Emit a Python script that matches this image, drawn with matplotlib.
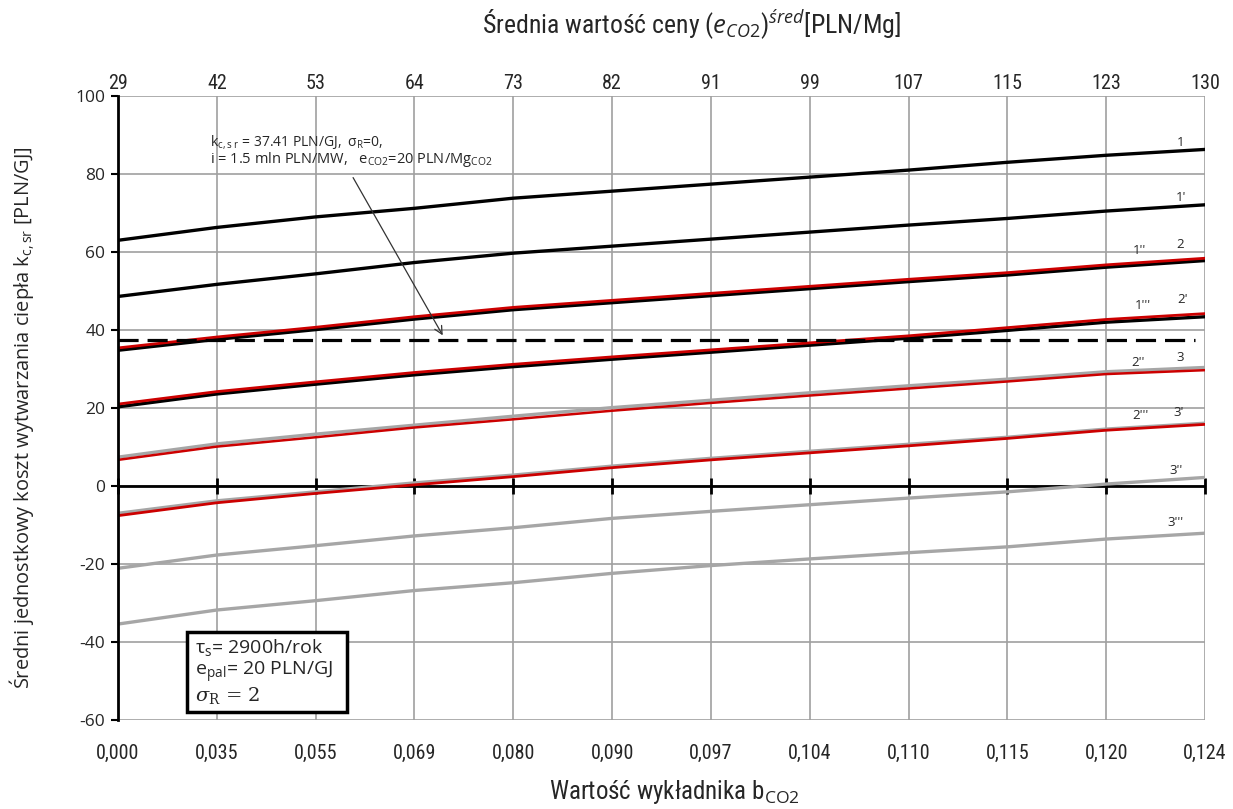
import matplotlib
matplotlib.use("Agg")
import matplotlib.pyplot as plt
from matplotlib.patches import Rectangle
from matplotlib import font_manager
import numpy as np

# Exponent b_CO2 (bottom axis) and mean CO2 price (top axis)
b_co2 = ["0,000", "0,035", "0,055", "0,069", "0,080", "0,090",
         "0,097", "0,104", "0,110", "0,115", "0,120", "0,124"]
e_co2_mean = ["29", "42", "53", "64", "73", "82", "91", "99", "107", "115", "123", "130"]

# Mean unit heat production cost k_c,sr [PLN/GJ]
k_1 = [63.0, 66.3, 69.0, 71.2, 73.8, 75.6, 77.4, 79.2, 81.0, 83.0, 84.8, 86.3]
k_1p = [48.6, 51.7, 54.4, 57.3, 59.7, 61.5, 63.3, 65.1, 66.9, 68.6, 70.5, 72.1]
k_1pp = [34.8, 37.6, 40.1, 42.8, 45.2, 47.0, 48.8, 50.6, 52.4, 54.1, 56.1, 57.8]
k_1ppp = [20.3, 23.6, 26.1, 28.5, 30.6, 32.5, 34.3, 36.1, 37.9, 39.9, 42.0, 43.4]
k_2 = [35.4, 38.2, 40.7, 43.4, 45.8, 47.6, 49.4, 51.2, 53.0, 54.7, 56.7, 58.4]
k_2p = [21.0, 24.2, 26.7, 29.1, 31.2, 33.1, 34.9, 36.7, 38.5, 40.6, 42.7, 44.2]
k_2pp = [6.7, 10.1, 12.5, 15.0, 17.1, 19.3, 21.3, 23.2, 25.0, 26.8, 28.7, 29.7]
k_2ppp = [-7.6, -4.3, -1.9, 0.3, 2.4, 4.7, 6.7, 8.5, 10.3, 12.2, 14.3, 15.8]
k_3 = [7.4, 10.8, 13.3, 15.6, 17.9, 20.1, 22.0, 23.9, 25.7, 27.4, 29.3, 30.4]
k_3p = [-7.0, -3.8, -1.5, 0.8, 2.8, 5.1, 7.1, 8.9, 10.7, 12.5, 14.6, 16.1]
k_3pp = [-21.1, -17.7, -15.3, -12.8, -10.7, -8.3, -6.5, -4.8, -3.1, -1.5, 0.5, 2.2]
k_3ppp = [-35.4, -31.8, -29.4, -26.8, -24.8, -22.4, -20.4, -18.7, -17.1, -15.6, -13.6, -12.1]

# Reference cost level (sigma_R = 0)
k_ref = 37.41

y_ticks = [100, 80, 60, 40, 20, 0, -20, -40, -60]

plt.rcParams["font.family"] = ["Open Sans", "DejaVu Sans"]
plt.rcParams["mathtext.fontset"] = "custom"
plt.rcParams["mathtext.rm"] = "Open Sans"
plt.rcParams["mathtext.it"] = "Open Sans:italic"
plt.rcParams["mathtext.bf"] = "Open Sans:bold"

# pick a narrow face for axis captions if one is available
_names = {f.name for f in font_manager.fontManager.ttflist}
_narrow = [n for n in ("Liberation Sans Narrow", "Roboto Condensed",
                       "Open Sans Condensed", "DejaVu Sans Condensed") if n in _names]
NARROW = dict(family=[_narrow[0]] if _narrow else ["DejaVu Sans"],
              stretch="condensed")

TXT = "#262626"
BLACK = "#000000"
RED = "#cc0000"
GREY = "#a6a6a6"
GRID = "#a0a0a0"

fig = plt.figure(figsize=(12.33, 8.09), dpi=100)
ax = fig.add_axes([118 / 1233, 89 / 809, 1087 / 1233, 624 / 809])

x = np.arange(len(b_co2))
ax.set_xlim(0, len(b_co2) - 1)
ax.set_ylim(-60, 100)

# grid
for xi in x[1:]:
    ax.axvline(xi, color=GRID, lw=1.2, zorder=1)
for yv in y_ticks:
    ax.axhline(yv, color=GRID, lw=1.2, zorder=1)

# zero line with its tick marks
ax.axhline(0, color=BLACK, lw=2.0, zorder=2)
ax.plot(x, np.zeros_like(x), ls="none", marker="|", ms=11, mew=2.0,
        color=BLACK, zorder=2, clip_on=False)

# series: grey group first, black group, then red on top
ax.plot(x, k_3, color=GREY, lw=2.4, zorder=3)
ax.plot(x, k_3p, color=GREY, lw=2.4, zorder=3)
ax.plot(x, k_3pp, color=GREY, lw=2.4, zorder=3)
ax.plot(x, k_3ppp, color=GREY, lw=2.4, zorder=3)
ax.plot(x, k_1, color=BLACK, lw=2.4, zorder=4)
ax.plot(x, k_1p, color=BLACK, lw=2.4, zorder=4)
ax.plot(x, k_1pp, color=BLACK, lw=2.4, zorder=4)
ax.plot(x, k_1ppp, color=BLACK, lw=2.4, zorder=4)
ax.plot(x, k_2, color=RED, lw=2.0, zorder=5)
ax.plot(x, k_2p, color=RED, lw=2.0, zorder=5)
ax.plot(x, k_2pp, color=RED, lw=1.8, zorder=5)
ax.plot(x, k_2ppp, color=RED, lw=2.0, zorder=5)

# reference level
ax.plot([0, 10.9], [k_ref, k_ref], color=BLACK, lw=2.3,
        ls=(0, (6.3, 2.8)), zorder=6)

# curve labels
curve_labels = [
    ("1", 10.75, 88.1), ("1'", 10.76, 73.9), ("2", 10.75, 62.0),
    ("1''", 10.34, 60.3), ("2'", 10.77, 47.7), ("1'''", 10.37, 46.2),
    ("3", 10.75, 33.0), ("2''", 10.32, 31.6), ("3'", 10.73, 18.9),
    ("2'''", 10.35, 18.2), ("3''", 10.71, 4.1), ("3'''", 10.70, -9.4),
]
for lab, lx, ly in curve_labels:
    ax.text(lx, ly, lab, fontsize=9.5, color=TXT, ha="center", va="center", zorder=7)

# reference-level annotation
ax.text(0.93, 88.3, "k$_{\\mathrm{c,s\\ r}}$ = 37.41 PLN/GJ,  σ$_{\\mathrm{R}}$=0,",
        fontsize=10, color=TXT, ha="left", va="center", zorder=7)
ax.text(0.93, 83.6, "i = 1.5 mln PLN/MW,   e$_{\\mathrm{CO2}}$=20 PLN/Mg$_{\\mathrm{CO2}}$",
        fontsize=10.5, color=TXT, ha="left", va="center", zorder=7)
ax.annotate("", xy=(3.30, k_ref + 0.6), xytext=(2.365, 79.7),
            arrowprops=dict(arrowstyle="->", color="#333333", lw=0.9,
                            mutation_scale=14), zorder=7)

# parameter box
ax.add_patch(Rectangle(((187 - 118) / 1087, (720 - 712) / 624),
                       160 / 1087, 80 / 624, transform=ax.transAxes,
                       fill=True, facecolor="white", edgecolor=BLACK, lw=2.5, zorder=8))
bx = (195 - 118) / 1087
ax.text(bx, (720 - 647) / 624, "τ$_{\\mathrm{s}}$= 2900h/rok", transform=ax.transAxes,
        fontsize=14, color=TXT, va="center", ha="left", zorder=9)
ax.text(bx, (720 - 672) / 624, "e$_{\\mathrm{pal}}$= 20 PLN/GJ", transform=ax.transAxes,
        fontsize=14, color=TXT, va="center", ha="left", zorder=9)
ax.text(bx, (720 - 696) / 624, "$\\sigma_\\mathrm{R}$ = 2", transform=ax.transAxes,
        fontsize=14, color=TXT, va="center", ha="left", zorder=9,
        math_fontfamily="dejavuserif", family="DejaVu Serif")

# axes styling
for side in ("top", "right", "bottom"):
    ax.spines[side].set_visible(False)
ax.spines["left"].set_color(BLACK)
ax.spines["left"].set_linewidth(2.0)
ax.spines["left"].set_zorder(6)

ax.set_yticks(y_ticks)
ax.set_yticklabels([str(v) for v in y_ticks])
ax.tick_params(axis="y", direction="out", length=5, width=1.5, color=BLACK,
               labelsize=12.5, labelcolor=TXT, pad=4)
ax.set_xticks(x)
ax.set_xticklabels(b_co2, fontsize=14.5, color=TXT, **NARROW)
ax.tick_params(axis="x", length=0, pad=17)

ax_top = ax.twiny()
ax_top.set_xlim(ax.get_xlim())
ax_top.set_xticks(x)
ax_top.set_xticklabels(e_co2_mean, fontsize=14.5, color=TXT, **NARROW)
ax_top.tick_params(axis="x", length=0, pad=2)
for side in ax_top.spines:
    ax_top.spines[side].set_visible(False)

# axis titles
fig.text(22 / 1233, 1 - 418 / 809,
         "Średni jednostkowy koszt wytwarzania ciepła k$_{\\mathrm{c,sr}}$ [PLN/GJ]",
         rotation=90, ha="center", va="center", fontsize=14.4, color=TXT)
fig.text(674 / 1233, 1 - 792 / 809, "Wartość wykładnika b$_{\\mathrm{CO2}}$",
         ha="center", va="center", fontsize=18, color=TXT, **NARROW)
fig.text(691 / 1233, 1 - 24 / 809,
         "Średnia wartość ceny ($\\mathit{e_{CO2}}$)$^{\\mathit{śred}}$[PLN/Mg]",
         ha="center", va="center", fontsize=18.5, color=TXT, **NARROW)

fig.savefig("out.png", dpi=100, facecolor="white")
